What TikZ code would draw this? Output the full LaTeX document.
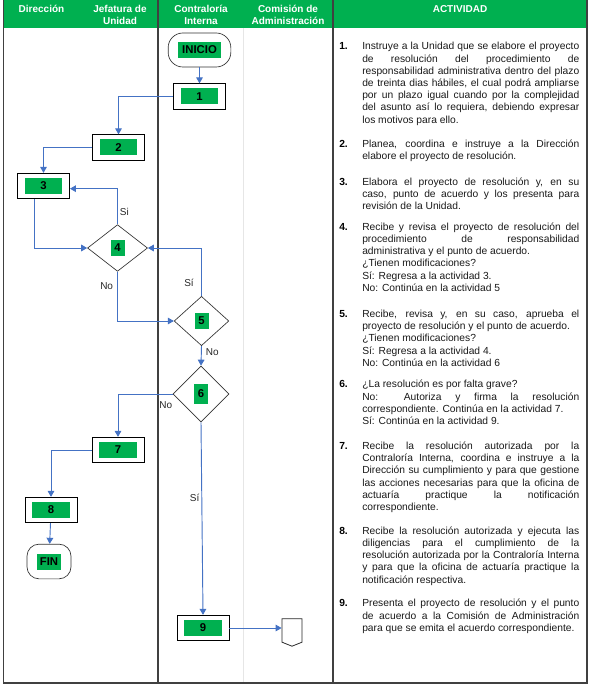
\documentclass[tikz,border=0pt]{standalone}
\usepackage{fontspec}
\setmainfont{Liberation Sans}
\usetikzlibrary{shapes.geometric,shapes.symbols,arrows.meta}

\definecolor{verde}{HTML}{00B050}
\definecolor{azul}{HTML}{4472C4}
\definecolor{rejilla}{HTML}{404040}
\definecolor{claro}{HTML}{E6E6E6}

\tikzset{
  proc/.style={draw=black,line width=0.7pt,minimum width=39pt,minimum height=19pt,inner sep=0pt},
  term/.style={draw=black!80,line width=0.5pt,rounded corners=11pt,inner sep=0pt},
  deci/.style={draw=black!80,line width=0.5pt,diamond,inner sep=0pt},
  tag/.style={fill=verde,minimum width=28pt,minimum height=12pt,inner sep=0pt,
    font=\fontsize{8.5}{9}\selectfont\bfseries},
  stag/.style={fill=verde,minimum width=10.5pt,minimum height=12pt,inner sep=0pt,
    font=\fontsize{8.5}{9}\selectfont\bfseries},
  flecha/.style={draw=azul,line width=0.7pt,-{Triangle[width=5pt,length=4.5pt]}},
  lbl/.style={font=\fontsize{7.5}{9}\selectfont,text=black!85,inner sep=1.5pt},
  head/.style={anchor=base,align=center,text=white,inner sep=0pt,
    font=\fontsize{7.5}{9.5}\selectfont\bfseries},
  num/.style={anchor=base west,inner sep=0pt,font=\fontsize{7.7}{9.15}\selectfont\bfseries},
  act/.style={anchor=base west,inner sep=0pt,text width=162.75pt,align=justify,
    text=black!90,font=\fontsize{7.7}{9.15}\selectfont,
    execute at begin node={\tolerance=10000\relax\hbadness=10000\relax}}
}

\begin{document}
\begin{tikzpicture}[x=0.75pt,y=-0.75pt]

   \useasboundingbox (0,0) rectangle (589,688);

   % encabezado y columnas
   \fill[verde] (3.5,0) rectangle (587,28);
   \draw[claro,line width=0.6pt] (243,28) -- (243,683);
   \draw[rejilla,line width=0.8pt] (158,0) -- (158,683);
   \draw[rejilla,line width=0.8pt] (333,0) -- (333,683);
   \draw[rejilla,line width=0.8pt] (3.5,0) -- (3.5,683) -- (587,683) -- (587,0);

   \node[head] (h1) at (41.5,12.3) {Dirección};
   \node[head] (h2) at (120,25) {Jefatura de\\Unidad};
   \node[head] (h3) at (201,25) {Contraloría\\Interna};
   \node[head] (h4) at (288,25) {Comisión de\\Administración};
   \node[head] (h5) at (460,12.3) {ACTIVIDAD};

   % diagrama
   \node[term,minimum width=47pt,minimum height=25.5pt] (ini) at (199.5,50) {};
   \node[tag,minimum width=32pt] (tini) at (ini) {INICIO};
   \node[proc] (p1) at (199.5,96.5) {};
   \node[tag] (t1) at (p1) {1};
   \node[proc] (p2) at (118.5,147.5) {};
   \node[tag] (t2) at (p2) {2};
   \node[proc] (p3) at (43.5,186) {};
   \node[tag] (t3) at (p3) {3};
   \node[deci,minimum width=45pt,minimum height=35pt] (d4) at (117.5,248) {};
   \node[stag] (t4) at (d4) {4};
   \node[deci,minimum width=41pt,minimum height=37pt] (d5) at (201.5,321) {};
   \node[stag] (t5) at (d5) {5};
   \node[deci,minimum width=42pt,minimum height=42pt] (d6) at (201,394) {};
   \node[stag,minimum height=15pt] (t6) at (d6) {6};
   \node[proc] (p7) at (118,450) {};
   \node[tag] (t7) at (p7) {7};
   \node[proc] (p8) at (51,510) {};
   \node[tag] (t8) at (p8) {8};
   \node[term,rounded corners=9pt,minimum width=33pt,minimum height=26pt] (fin) at (49,561.5) {};
   \node[tag,minimum width=18pt] (tfin) at (fin) {FIN};
   \node[proc] (p9) at (203,628) {};
   \node[tag] (t9) at (p9) {9};
   \node[draw=black!85,line width=0.6pt,signal,signal to=south,signal pointer angle=136,
     minimum width=15pt,minimum height=17.5pt,inner sep=0pt] (con) at (292,630.5) {};

   \draw[flecha] (ini) -- (p1);
   \draw[flecha] (p1.west) -| (p2.north);
   \draw[flecha] (p2.west) -| (p3.north);
   \draw[flecha] ([xshift=-6.5pt]p3.south) |- (d4.west);
   \draw[flecha] (d4.north) |- node[lbl,pos=0.18,right] (si4) {Si} ([yshift=-2pt]p3.east);
   \draw[flecha] (d4.south) |- node[lbl,pos=0.15,left,xshift=-1.5pt] (no4) {No} (d5.west);
   \draw[flecha] (d5.north) |- node[lbl,pos=0.14,left,xshift=-4pt] (si5) {Sí} (d4.east);
   \draw[flecha] (d5.south) -- node[lbl,pos=0.3,right,xshift=1.5pt] (no5) {No} (d6.north);
   \draw[flecha] (d6.west) -| node[lbl,pos=0,anchor=north east,xshift=1.5pt,yshift=-4pt] (no6) {No} (p7.north);
   \draw[flecha] (p7.west) -| (p8.north);
   \draw[flecha] (p8) -- (fin);
   \draw[flecha] (d6.south) -- node[lbl,pos=0.39,left] (si6) {Sí} (p9.north);
   \draw[flecha] (p9.east) -- (p9.east -| con.west);

   % actividades
   \node[num] (n1) at (339,50) {1.};
   \node[act] (a1) at (362,50) {Instruye a la Unidad que se elabore el proyecto\linebreak
     de resolución del procedimiento de\linebreak
     responsabilidad administrativa dentro del plazo\linebreak
     de treinta dias hábiles, el cual podrá ampliarse\linebreak
     por un plazo igual cuando por la complejidad\linebreak
     del asunto así lo requiera, debiendo expresar\linebreak
     los motivos para ello.};
   \node[num] (n2) at (339,147.8) {2.};
   \node[act] (a2) at (362,147.8) {Planea, coordina e instruye a la Dirección\linebreak
     elabore el proyecto de resolución.};
   \node[num] (n3) at (339,185.5) {3.};
   \node[act] (a3) at (362,185.5) {Elabora el proyecto de resolución y, en su\linebreak
     caso, punto de acuerdo y los presenta para\linebreak
     revisión de la Unidad.};
   \node[num] (n4) at (339,230.2) {4.};
   \node[act] (a4) at (362,230.2) {Recibe y revisa el proyecto de resolución del\linebreak
     procedimiento de responsabilidad\linebreak
     administrativa y el punto de acuerdo.\\
     ¿Tienen modificaciones?\\
     Sí: Regresa a la actividad 3.\\
     No: Continúa en la actividad 5};
   \node[num] (n5) at (339,317.5) {5.};
   \node[act] (a5) at (362,317.5) {Recibe, revisa y, en su caso, aprueba el\linebreak
     proyecto de resolución y el punto de acuerdo.\\
     ¿Tienen modificaciones?\\
     Sí: Regresa a la actividad 4.\\
     No: Continúa en la actividad 6};
   \node[num] (n6) at (339,387.8) {6.};
   \node[act] (a6) at (362,387.8) {¿La resolución es por falta grave?\\
     No: Autoriza y firma la resolución\linebreak
     correspondiente. Continúa en la actividad 7.\\
     Sí: Continúa en la actividad 9.};
   \node[num] (n7) at (339,449.5) {7.};
   \node[act] (a7) at (362,449.5) {Recibe la resolución autorizada por la\linebreak
     Contraloría Interna, coordina e instruye a la\linebreak
     Dirección su cumplimiento y para que gestione\linebreak
     las acciones necesarias para que la oficina de\linebreak
     actuaría practique la notificación\linebreak
     correspondiente.};
   \node[num] (n8) at (339,534.2) {8.};
   \node[act] (a8) at (362,534.2) {Recibe la resolución autorizada y ejecuta las\linebreak
     diligencias para el cumplimiento de la\linebreak
     resolución autorizada por la Contraloría Interna\linebreak
     y para que la oficina de actuaría practique la\linebreak
     notificación respectiva.};
   \node[num] (n9) at (339,606.8) {9.};
   \node[act] (a9) at (362,606.8) {Presenta el proyecto de resolución y el punto\linebreak
     de acuerdo a la Comisión de Administración\linebreak
     para que se emita el acuerdo correspondiente.};

\end{tikzpicture}
\end{document}
